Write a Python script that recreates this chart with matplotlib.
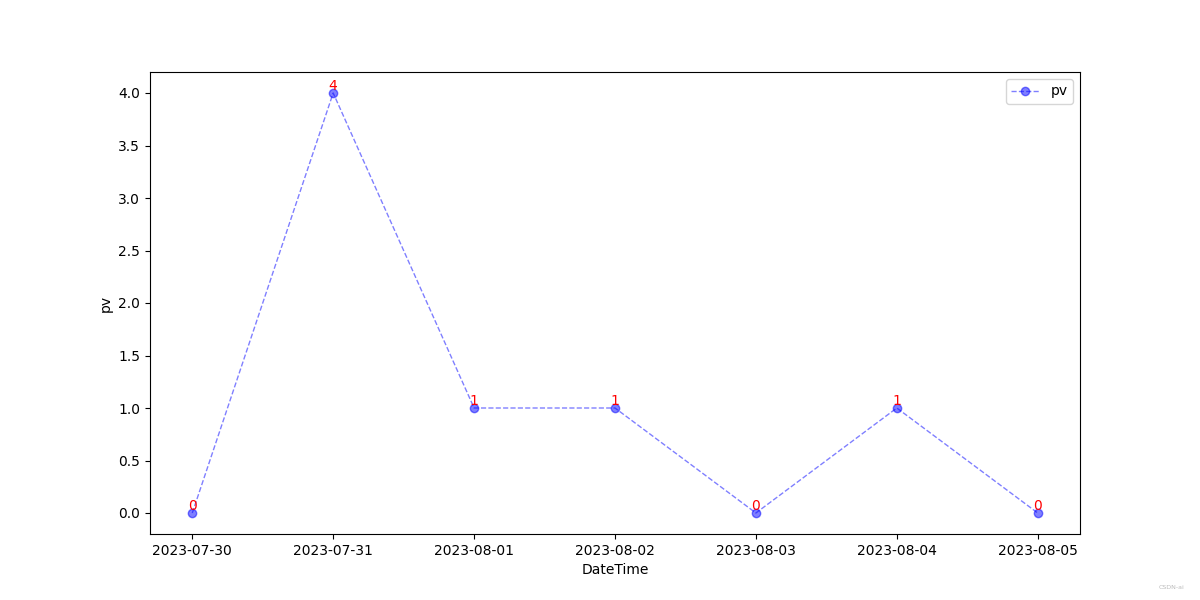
import matplotlib
matplotlib.use("Agg")
import matplotlib.pyplot as plt

# Data
dates = ['2023-07-30', '2023-07-31', '2023-08-01', '2023-08-02',
         '2023-08-03', '2023-08-04', '2023-08-05']
pv = [0, 4, 1, 1, 0, 1, 0]

fig, ax = plt.subplots(figsize=(12, 6), dpi=100)
ax.plot(dates, pv, 'o--', color='blue', alpha=0.5, linewidth=1, label='pv')

# value labels on each point
for x, y in zip(dates, pv):
    ax.text(x, y, str(y), color='red', ha='center', va='bottom', fontsize=10)

ax.set_xlabel('DateTime')
ax.set_ylabel('pv')
ax.legend(loc='upper right')

fig.text(0.987, 0.018, 'CSDN-ai', color='#bbbbbb', fontsize=4.5, ha='right')

fig.savefig('out.png')
